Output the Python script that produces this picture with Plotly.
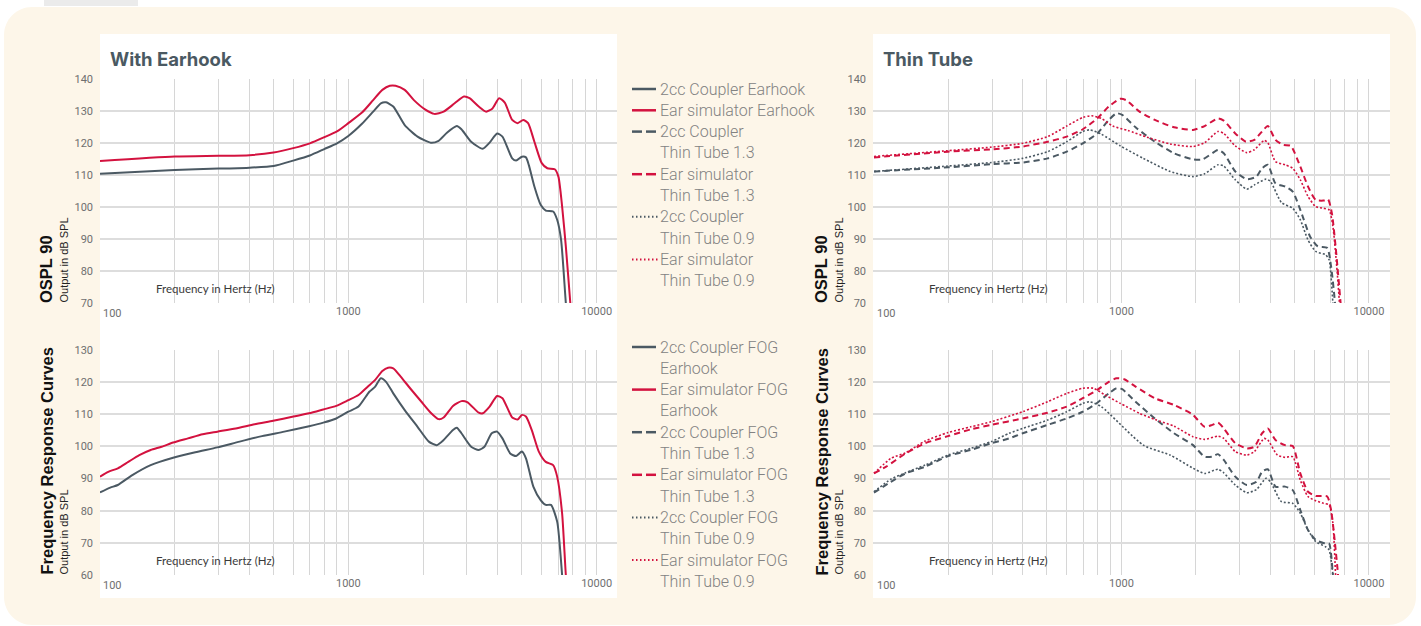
import plotly.graph_objects as go

W, H = 1421, 626

# ---------------- data: OSPL 90 (top row) ----------------
f_ospl_eh_ear = [100, 200, 300, 400, 500, 600, 700, 800, 900, 1000, 1135, 1259, 1371, 1469, 1550, 1687, 1837, 2036, 2220, 2420, 2681, 2922, 3077, 3351, 3590, 3807, 4048, 4266, 4571, 4810, 5062, 5296, 5614, 6012, 6330, 6780, 7015, 7260, 7515, 7834, 8100]
db_ospl_eh_ear = [114.4, 115.8, 116.0, 116.2, 117.0, 118.4, 119.9, 121.8, 123.6, 126.2, 129.5, 133.4, 136.6, 137.9, 137.9, 136.6, 133.4, 130.5, 129.1, 129.8, 132.4, 134.5, 134.0, 131.4, 129.8, 130.8, 134.0, 132.6, 127.2, 126.2, 127.2, 126.2, 120.4, 113.7, 112.1, 111.8, 109.5, 100.2, 87.7, 70.0, 55.0]

f_ospl_eh_2cc = [100, 200, 300, 400, 500, 600, 700, 800, 900, 1000, 1135, 1259, 1352, 1419, 1517, 1687, 1900, 2147, 2310, 2502, 2735, 2854, 3124, 3476, 3707, 3973, 4175, 4571, 4741, 5000, 5192, 5333, 5614, 5950, 6240, 6680, 6935, 7190, 7515, 7800]
db_ospl_eh_2cc = [110.4, 111.6, 112.0, 112.3, 112.8, 114.5, 116.1, 118.1, 119.9, 122.2, 126.0, 129.8, 132.4, 132.7, 131.4, 125.6, 122.0, 120.1, 120.7, 123.3, 125.3, 124.3, 120.4, 118.2, 120.1, 123.0, 122.0, 115.2, 114.5, 115.7, 115.5, 113.1, 106.4, 100.7, 98.9, 98.6, 96.0, 89.8, 70.0, 55.0]

f_ospl_t13_ear = [100, 199, 298, 399, 503, 601, 698, 799, 889, 989, 1044, 1183, 1364, 1630, 1947, 2167, 2455, 2590, 2883, 3186, 3444, 3700, 3902, 4190, 4500, 4831, 5280, 5671, 6095, 6548, 6830, 7080, 7330, 7680, 7950]
db_ospl_t13_ear = [115.5, 117.3, 118.0, 118.9, 120.4, 122.0, 124.3, 127.7, 131.4, 133.8, 133.4, 129.8, 127.2, 124.9, 124.1, 125.3, 127.7, 127.0, 123.0, 120.4, 121.0, 123.6, 125.3, 121.0, 119.4, 119.1, 112.6, 106.4, 102.2, 102.0, 102.4, 98.1, 87.7, 70.0, 55.0]

f_ospl_t09_ear = [100, 199, 298, 399, 503, 601, 698, 757, 828, 921, 1062, 1270, 1574, 1947, 2167, 2455, 2590, 2883, 3209, 3444, 3770, 3902, 4190, 4580, 4920, 5280, 5671, 6095, 6548, 6900, 7150, 7410, 7600, 7850]
db_ospl_t09_ear = [115.8, 117.6, 118.7, 119.9, 122.0, 125.3, 128.0, 128.5, 127.7, 125.3, 123.9, 121.8, 119.7, 118.9, 120.1, 123.6, 123.0, 119.1, 117.0, 117.9, 120.8, 120.1, 114.2, 113.2, 112.1, 108.5, 103.3, 100.1, 99.6, 99.1, 93.9, 81.4, 70.0, 55.0]

f_ospl_t13_2cc = [100, 199, 298, 399, 503, 601, 698, 799, 889, 955, 1007, 1140, 1364, 1630, 1947, 2128, 2455, 2590, 2883, 3209, 3510, 3700, 3902, 4190, 4580, 4920, 5400, 5780, 6210, 6780, 7030, 7290, 7500]
db_ospl_t13_2cc = [111.1, 112.4, 113.4, 113.9, 115.2, 117.3, 119.9, 123.0, 127.2, 129.3, 128.8, 124.9, 120.4, 116.8, 114.9, 114.9, 117.8, 116.8, 111.1, 108.7, 109.5, 112.1, 113.2, 107.4, 106.4, 104.8, 97.0, 90.8, 87.7, 87.2, 81.4, 70.0, 55.0]

f_ospl_t09_2cc = [100, 199, 298, 399, 503, 601, 698, 744, 828, 989, 1225, 1574, 1947, 2167, 2455, 2590, 2883, 3209, 3444, 3837, 4000, 4430, 4920, 5280, 5671, 6095, 6670, 6900, 7150, 7400]
db_ospl_t09_2cc = [111.1, 112.8, 113.9, 115.2, 117.3, 120.4, 123.6, 124.1, 122.8, 119.1, 115.2, 111.1, 109.5, 110.4, 113.2, 112.8, 108.5, 105.6, 106.9, 108.7, 108.0, 101.4, 99.6, 96.0, 89.7, 86.1, 85.1, 83.5, 70.0, 55.0]

# ---------------- data: frequency response curves (bottom row) ----------------
f_fog_eh_ear = [100, 108, 118, 130, 144, 160, 177, 197, 226, 259, 297, 352, 419, 498, 601, 695, 793, 894, 1000, 1099, 1197, 1283, 1371, 1445, 1517, 1625, 1773, 1970, 2147, 2310, 2420, 2639, 2854, 3011, 3351, 3476, 3707, 3973, 4175, 4571, 4810, 5000, 5192, 5480, 5850, 6240, 6680, 6935, 7260, 7515, 7800]
db_fog_eh_ear = [90.6, 92.1, 93.2, 95.2, 97.3, 98.9, 99.9, 101.2, 102.5, 103.8, 104.6, 105.6, 106.9, 108.0, 109.3, 110.3, 111.5, 112.6, 114.4, 116.0, 118.6, 120.7, 123.5, 124.5, 124.3, 121.7, 118.1, 113.9, 110.5, 108.5, 109.0, 112.6, 114.1, 113.8, 110.5, 110.3, 112.4, 115.7, 115.0, 109.0, 108.4, 109.8, 109.3, 105.1, 98.4, 95.2, 94.2, 90.6, 79.2, 60.0, 45.0]

f_fog_eh_2cc = [100, 110, 118, 135, 160, 197, 242, 297, 365, 449, 552, 695, 793, 894, 1000, 1099, 1215, 1283, 1352, 1419, 1517, 1687, 1900, 2110, 2270, 2420, 2639, 2735, 2854, 3124, 3351, 3532, 3780, 3973, 4175, 4488, 4741, 5000, 5192, 5560, 5950, 6240, 6550, 6935, 7260, 7500]
db_fog_eh_2cc = [85.7, 87.2, 88.0, 91.1, 94.2, 96.5, 98.2, 99.7, 101.5, 103.2, 104.6, 106.3, 107.4, 108.7, 110.8, 112.4, 117.0, 118.6, 121.2, 120.1, 116.5, 111.3, 106.1, 101.5, 100.4, 102.0, 105.1, 105.8, 104.1, 99.9, 98.9, 99.9, 104.1, 104.6, 102.5, 97.8, 97.0, 98.4, 96.3, 87.5, 83.3, 81.8, 81.8, 76.6, 60.0, 45.0]

f_fog_t13_ear = [100, 112, 134, 161, 199, 246, 298, 399, 503, 601, 698, 799, 889, 955, 1026, 1140, 1364, 1630, 1947, 2167, 2328, 2455, 2590, 2883, 3209, 3444, 3700, 3902, 4190, 4580, 4920, 5280, 5671, 6095, 6780, 7030, 7290, 7500, 7700]
db_fog_t13_ear = [91.6, 93.7, 97.8, 101.0, 103.2, 105.3, 106.7, 108.7, 110.5, 112.4, 115.0, 117.6, 120.1, 121.2, 120.9, 118.6, 115.0, 112.9, 109.8, 106.1, 106.7, 107.4, 105.6, 101.0, 99.4, 99.9, 104.1, 105.6, 102.0, 100.4, 100.1, 91.6, 85.9, 84.6, 84.4, 80.2, 69.8, 60.0, 45.0]

f_fog_t09_ear = [100, 117, 134, 161, 199, 246, 298, 399, 503, 601, 698, 771, 858, 989, 1183, 1364, 1630, 1947, 2167, 2455, 2590, 2883, 3209, 3444, 3770, 3902, 4268, 4580, 4920, 5280, 5671, 6095, 6548, 6900, 7150, 7330, 7550]
db_fog_t09_ear = [91.6, 96.3, 98.0, 101.7, 104.3, 106.1, 107.7, 110.8, 113.9, 116.5, 118.1, 118.1, 116.0, 113.4, 110.3, 108.4, 106.3, 103.0, 102.2, 103.2, 102.5, 98.4, 97.3, 98.4, 102.5, 102.0, 97.3, 96.6, 96.8, 89.5, 84.4, 83.1, 82.3, 81.8, 76.1, 60.0, 45.0]

f_fog_t13_2cc = [100, 117, 134, 161, 199, 246, 298, 352, 399, 503, 601, 698, 799, 889, 955, 1007, 1140, 1364, 1630, 1947, 2167, 2328, 2455, 2590, 2883, 3209, 3510, 3700, 3902, 4190, 4580, 4920, 5280, 5671, 6095, 6670, 6900, 7150, 7350]
db_fog_t13_2cc = [85.6, 89.0, 91.6, 93.7, 97.0, 98.9, 101.0, 102.5, 104.1, 106.7, 108.7, 110.8, 113.6, 116.5, 118.1, 117.8, 113.9, 108.7, 104.1, 100.4, 96.8, 96.8, 97.6, 95.8, 90.6, 88.0, 89.0, 92.1, 92.9, 87.5, 87.5, 86.4, 80.2, 74.0, 70.9, 69.8, 69.8, 60.0, 45.0]

f_fog_t09_2cc = [100, 117, 134, 161, 199, 246, 298, 352, 399, 503, 601, 698, 744, 828, 1225, 1574, 1947, 2167, 2455, 2590, 2883, 3209, 3510, 3837, 4000, 4430, 4920, 5280, 5671, 6095, 6670, 6900, 7150, 7350]
db_fog_t09_2cc = [85.9, 89.8, 91.8, 94.2, 97.3, 99.4, 101.5, 104.1, 105.6, 108.2, 110.8, 113.4, 113.9, 112.4, 100.4, 97.3, 93.2, 91.6, 92.9, 91.8, 88.0, 85.6, 86.6, 90.1, 89.0, 82.8, 82.3, 79.2, 74.0, 70.4, 68.8, 67.8, 60.0, 45.0]

# ---------------- labels ----------------
panel_titles = ["With Earhook", "Thin Tube"]
row_titles = ["OSPL 90", "Frequency Response Curves"]
unit_label = "Output in dB SPL"
freq_label = "Frequency in Hertz (Hz)"
legend_top = [
    ("2cc Coupler Earhook", None),
    ("Ear simulator Earhook", None),
    ("2cc Coupler", "Thin Tube 1.3"),
    ("Ear simulator", "Thin Tube 1.3"),
    ("2cc Coupler", "Thin Tube 0.9"),
    ("Ear simulator", "Thin Tube 0.9"),
]
legend_bottom = [
    ("2cc Coupler FOG", "Earhook"),
    ("Ear simulator FOG", "Earhook"),
    ("2cc Coupler FOG", "Thin Tube 1.3"),
    ("Ear simulator FOG", "Thin Tube 1.3"),
    ("2cc Coupler FOG", "Thin Tube 0.9"),
    ("Ear simulator FOG", "Thin Tube 0.9"),
]
x_grid = [100, 200, 300, 400, 500, 600, 700, 800, 900,
          1000, 2000, 3000, 4000, 5000, 6000, 7000, 8000, 9000, 10000]
# the first decade label sits to the right of its grid line (drawn separately)
x_text = [""] * 9 + ["1000"] + [""] * 8 + ["10000"]
first_x_label = "100"

# ---------------- styling ----------------
SLATE = "#4b5963"
RED = "#d3123f"
CREAM = "#fdf6e9"
GRID_H = "#dddddd"
GRID_V = "#d6d6d6"
TICK = "#6f6f6f"
LEG_TXT = "#828282"
STYLES = {
    "solid": dict(dash="solid", width=2),
    "dash": dict(dash="6px,4px", width=2),
    "dot": dict(dash="2px,2px", width=1.6),
}


def px(x):
    return x / W


def py(y):
    return 1 - y / H


fig = go.Figure()

series = [
    # (freq, db, color, style, name, axis index)
    (f_ospl_eh_2cc, db_ospl_eh_2cc, SLATE, "solid", "2cc Coupler Earhook", 1),
    (f_ospl_eh_ear, db_ospl_eh_ear, RED, "solid", "Ear simulator Earhook", 1),
    (f_ospl_t13_2cc, db_ospl_t13_2cc, SLATE, "dash", "2cc Coupler Thin Tube 1.3", 2),
    (f_ospl_t13_ear, db_ospl_t13_ear, RED, "dash", "Ear simulator Thin Tube 1.3", 2),
    (f_ospl_t09_2cc, db_ospl_t09_2cc, SLATE, "dot", "2cc Coupler Thin Tube 0.9", 2),
    (f_ospl_t09_ear, db_ospl_t09_ear, RED, "dot", "Ear simulator Thin Tube 0.9", 2),
    (f_fog_eh_2cc, db_fog_eh_2cc, SLATE, "solid", "2cc Coupler FOG Earhook", 3),
    (f_fog_eh_ear, db_fog_eh_ear, RED, "solid", "Ear simulator FOG Earhook", 3),
    (f_fog_t13_2cc, db_fog_t13_2cc, SLATE, "dash", "2cc Coupler FOG Thin Tube 1.3", 4),
    (f_fog_t13_ear, db_fog_t13_ear, RED, "dash", "Ear simulator FOG Thin Tube 1.3", 4),
    (f_fog_t09_2cc, db_fog_t09_2cc, SLATE, "dot", "2cc Coupler FOG Thin Tube 0.9", 4),
    (f_fog_t09_ear, db_fog_t09_ear, RED, "dot", "Ear simulator FOG Thin Tube 0.9", 4),
]
for f, db, col, sty, name, ax in series:
    suffix = "" if ax == 1 else str(ax)
    fig.add_trace(go.Scatter(
        x=f, y=db, mode="lines", name=name, showlegend=False,
        line=dict(color=col, shape="spline", smoothing=0.6, **STYLES[sty]),
        xaxis="x" + suffix, yaxis="y" + suffix, hoverinfo="x+y+name",
    ))

# ---------------- axes ----------------
panels_x = [(100, 617), (873, 1390)]
rows_y = [(79, 303, [70, 140]), (350, 575, [60, 130])]
x_ranges = [[2.0, 4.082], [1.996, 4.085]]

ann = []
layout_axes = {}
for r, (ytop, ybot, yr) in enumerate(rows_y):
    for c, (xl, xr) in enumerate(panels_x):
        idx = r * 2 + c + 1
        s = "" if idx == 1 else str(idx)
        layout_axes["xaxis" + s] = dict(
            domain=[px(xl), px(xr)], anchor="y" + s, type="log",
            range=x_ranges[c], tickmode="array", tickvals=x_grid, ticktext=x_text,
            showgrid=True, gridcolor=GRID_V, gridwidth=1.3, zeroline=False,
            showline=False, ticks="", tickfont=dict(family="Roboto", size=11, color=TICK),
            fixedrange=True, automargin=False,
        )
        layout_axes["yaxis" + s] = dict(
            domain=[py(ybot), py(ytop)], anchor="x" + s, range=yr,
            tickmode="array", tickvals=list(range(yr[0], yr[1] + 1, 10)),
            showgrid=True, gridcolor=GRID_H, gridwidth=2, zeroline=False,
            showline=False, ticks="", ticklabelstandoff=6,
            tickfont=dict(family="Roboto", size=11, color=TICK), fixedrange=True,
            automargin=False,
        )
        ann.append(dict(text=first_x_label, x=2, y=py(ybot + 10), xref="x" + s, yref="paper",
                        xanchor="left", yanchor="middle", showarrow=False, xshift=1,
                        font=dict(family="Roboto", size=11, color=TICK)))

# ---------------- background shapes ----------------
shapes = []


def rounded_rect(x0, y0, x1, y1, r):
    rx, ry = r / W, r / H
    X0, X1 = px(x0), px(x1)
    Y0, Y1 = py(y0), py(y1)  # Y0 top, Y1 bottom in paper units
    k = 0.45
    return (
        f"M {X0 + rx} {Y0} L {X1 - rx} {Y0} "
        f"C {X1 - rx * k} {Y0} {X1} {Y0 - ry * k} {X1} {Y0 - ry} "
        f"L {X1} {Y1 + ry} "
        f"C {X1} {Y1 + ry * k} {X1 - rx * k} {Y1} {X1 - rx} {Y1} "
        f"L {X0 + rx} {Y1} "
        f"C {X0 + rx * k} {Y1} {X0} {Y1 + ry * k} {X0} {Y1 + ry} "
        f"L {X0} {Y0 - ry} "
        f"C {X0} {Y0 - ry * k} {X0 + rx * k} {Y0} {X0 + rx} {Y0} Z"
    )


shapes.append(dict(type="rect", xref="paper", yref="paper", x0=px(44), x1=px(138), y0=py(6), y1=py(0),
                   fillcolor="#ebebeb", line=dict(width=0), layer="below"))
shapes.append(dict(type="path", xref="paper", yref="paper", path=rounded_rect(4, 7, 1416, 625, 28),
                   fillcolor=CREAM, line=dict(width=0), layer="below"))
for xl, xr in panels_x:
    shapes.append(dict(type="rect", xref="paper", yref="paper", x0=px(xl), x1=px(xr),
                       y0=py(598), y1=py(34), fillcolor="white", line=dict(width=0), layer="below"))

# ---------------- text ----------------
for (xl, _), title in zip(panels_x, panel_titles):
    ann.append(dict(text=f"<b>{title}</b>", x=px(xl + 8), y=py(59), xref="paper", yref="paper",
                    xanchor="left", yanchor="middle", showarrow=False,
                    font=dict(family="Inter", size=18.5, color="#4a5962")))
    for ytop, ybot, _ in rows_y:
        ann.append(dict(text=freq_label, x=px(xl + 54), y=py(ybot - 15), xref="paper", yref="paper",
                        xanchor="left", yanchor="middle", showarrow=False,
                        font=dict(family="Lato", size=11.5, color="#3a3a3a")))

for xb, xs in [(46, 63), (821, 838)]:
    for (ytop, ybot, _), rt in zip(rows_y, row_titles):
        ann.append(dict(text=f"<b>{rt}</b>", x=px(xb), y=py(ybot + 2), xref="paper", yref="paper",
                        xanchor="center", yanchor="bottom", textangle=-90, showarrow=False,
                        font=dict(family="Liberation Sans", size=16.5, color="#111111")))
        ann.append(dict(text=unit_label, x=px(xs), y=py(ybot + 2), xref="paper", yref="paper",
                        xanchor="center", yanchor="bottom", textangle=-90, showarrow=False,
                        font=dict(family="Liberation Sans", size=11, color="#222222")))

# legend keys drawn beside the left charts
legend_styles = [(SLATE, "solid"), (RED, "solid"), (SLATE, "dash"), (RED, "dash"), (SLATE, "dot"), (RED, "dot")]
LINE_H = 21.3
LEG_FONT = dict(family="Roboto", size=16, color=LEG_TXT, weight=300)


def draw_legend(entries, y_start):
    y = y_start
    for (l1, l2), (col, sty) in zip(entries, legend_styles):
        if sty == "solid":
            segs = [(632, 656)]
            w = 2.5
        elif sty == "dash":
            segs = [(632, 642), (646, 656)]
            w = 2.5
        else:
            segs = [(632 + 4 * i, 633.5 + 4 * i) for i in range(7)]
            w = 2
        for a, b in segs:
            shapes.append(dict(type="line", xref="paper", yref="paper", x0=px(a), x1=px(b),
                               y0=py(y), y1=py(y), line=dict(color=col, width=w)))
        ann.append(dict(text=l1, x=px(658), y=py(y), xref="paper", yref="paper", xanchor="left",
                        yanchor="middle", showarrow=False, font=LEG_FONT))
        y += LINE_H
        if l2:
            ann.append(dict(text=l2, x=px(658), y=py(y), xref="paper", yref="paper", xanchor="left",
                            yanchor="middle", showarrow=False, font=LEG_FONT))
            y += LINE_H


draw_legend(legend_top, 89)
draw_legend(legend_bottom, 347)

fig.update_layout(
    width=W, height=H, margin=dict(l=0, r=0, t=0, b=0, pad=0, autoexpand=False),
    paper_bgcolor="white", plot_bgcolor="rgba(0,0,0,0)",
    shapes=shapes, annotations=ann, showlegend=False,
    **layout_axes,
)

fig.write_html("out.html")
